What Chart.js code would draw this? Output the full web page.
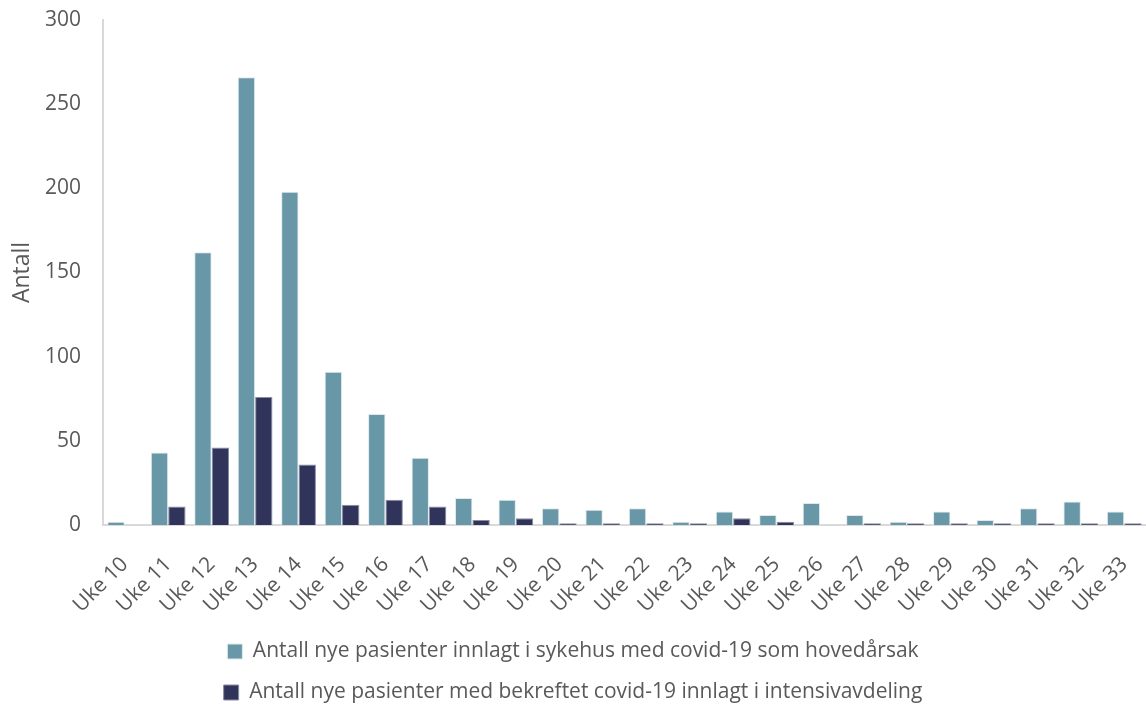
<!DOCTYPE html>
<html>
<head>
<meta charset="utf-8">
<script src="https://cdn.jsdelivr.net/npm/chart.js@4/dist/chart.umd.min.js"></script>
<style>
  html, body { margin: 0; padding: 0; background: #fff; overflow: hidden; }
  #wrap { width: 1146px; height: 713px; position: relative; }
</style>
</head>
<body>
<div id="wrap"><canvas id="c"></canvas></div>
<script>
// Weekly admissions, weeks 10–33
const weeks = ['Uke 10','Uke 11','Uke 12','Uke 13','Uke 14','Uke 15','Uke 16','Uke 17','Uke 18','Uke 19','Uke 20','Uke 21',
               'Uke 22','Uke 23','Uke 24','Uke 25','Uke 26','Uke 27','Uke 28','Uke 29','Uke 30','Uke 31','Uke 32','Uke 33'];
const hospitalised = [2, 43, 162, 266, 198, 91, 66, 40, 16, 15, 10, 9, 10, 2, 8, 6, 13, 6, 2, 8, 3, 10, 14, 8];
const intensiveCare = [0, 11, 46, 76, 36, 12, 15, 11, 3, 4, 1, 1, 1, 1, 4, 2, 0, 1, 1, 1, 1, 1, 1, 1];
const yTicks = [0, 50, 100, 150, 200, 250, 300];

const seriesNames = [
  'Antall nye pasienter innlagt i sykehus med covid-19 som hovedårsak',
  'Antall nye pasienter med bekreftet covid-19 innlagt i intensivavdeling'
];

const FONT = "'Open Sans', 'Liberation Sans', sans-serif";
const GREY = '#595959';

new Chart(document.getElementById('c'), {
  type: 'bar',
  data: {
    labels: weeks,
    datasets: [
      { label: seriesNames[0], data: hospitalised, backgroundColor: '#6897a7', borderColor: '#dfe9ec', borderWidth: 1, borderSkipped: 'bottom' },
      { label: seriesNames[1], data: intensiveCare, backgroundColor: '#31345a', borderColor: '#8a8ca4', borderWidth: 1, borderSkipped: 'bottom' }
    ]
  },
  options: {
    responsive: true,
    maintainAspectRatio: false,
    animation: false,
    layout: { padding: { top: 20, right: 0, left: 0, bottom: 0 } },
    datasets: { bar: { categoryPercentage: 0.8, barPercentage: 1.0 } },
    scales: {
      x: {
        afterFit: s => { s.height = 96; s.paddingLeft = 0; s.paddingRight = 0; },
        grid: { display: false, drawTicks: false },
        border: { color: '#d9d9d9', width: 2 },
        ticks: { color: GREY, font: { family: FONT, size: 21 }, minRotation: 45, maxRotation: 45, autoSkip: false, padding: 27 }
      },
      y: {
        min: 0, max: 300,
        afterBuildTicks: s => { s.ticks = yTicks.map(v => ({ value: v })); },
        afterFit: s => { s.width = 103; s.paddingTop = 0; s.paddingBottom = 0; },
        grid: { display: false, drawTicks: false },
        border: { color: '#d9d9d9', width: 2 },
        ticks: { color: GREY, font: { family: FONT, size: 21 }, padding: 22 },
        title: { display: true, text: 'Antall', color: GREY, font: { family: FONT, size: 23 }, padding: { top: 9, bottom: 0 } }
      }
    },
    plugins: {
      tooltip: { enabled: false },
      legend: {
        position: 'bottom',
        labels: {
          color: GREY,
          font: { family: FONT, size: 21 },
          boxWidth: 15, boxHeight: 15,
          padding: 20
        }
      }
    }
  }
});
</script>
</body>
</html>
